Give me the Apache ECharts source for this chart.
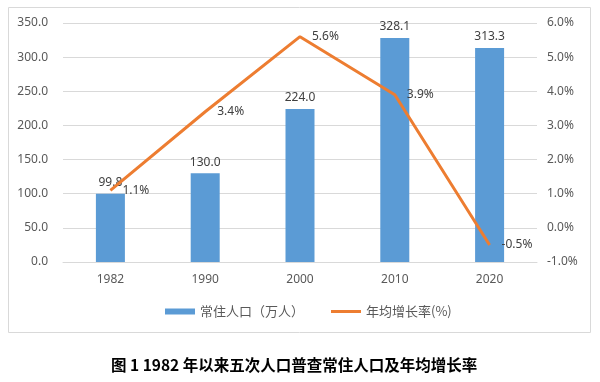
<!DOCTYPE html>
<html><head><meta charset="utf-8">
<script src="https://cdn.jsdelivr.net/npm/echarts@6/dist/echarts.min.js"></script>
<style>html,body{margin:0;padding:0;background:#fff}#c{width:600px;height:382px}</style>
</head><body><div id="c"></div>
<script>
const categories = ['1982', '1990', '2000', '2010', '2020'];
const population = [99.8, 130.0, 224.0, 328.1, 313.3];
const growthRate = [1.1, 3.4, 5.6, 3.9, -0.5];
const seriesNames = ['常住人口（万人）', '年均增长率(%)'];
const titleText = '图 1 1982 年以来五次人口普查常住人口及年均增长率';

const font = "'Noto Sans', 'Noto Sans CJK SC', sans-serif";
const chart = echarts.init(document.getElementById('c'));
chart.setOption({
  animation: false,
  textStyle: { fontFamily: font },
  graphic: [
    { type: 'rect', shape: { x: 8.5, y: 7.5, width: 582, height: 325 }, style: { fill: 'none', stroke: '#D9D9D9', lineWidth: 1 }, z: -1 }
  ],
  title: {
    text: titleText, left: 106, top: 352,
    textStyle: { fontSize: 15.5, fontWeight: 'bold', color: '#000', fontFamily: "'Noto Sans CJK SC', sans-serif" }
  },
  legend: {
    top: 300, left: 160, itemGap: 27, itemWidth: 30, itemHeight: 6,
    textStyle: { color: '#595959', fontSize: 13, fontFamily: "'Noto Sans CJK SC', sans-serif" },
    data: [
      { name: seriesNames[0], icon: 'rect' },
      { name: seriesNames[1], icon: 'path://M0,0 L30,0 L30,3 L0,3 Z', itemStyle: { color: '#ED7D31' } }
    ]
  },
  grid: { left: 63, right: 63, top: 23, bottom: 120 },
  xAxis: {
    type: 'category', data: categories,
    axisLine: { lineStyle: { color: '#D9D9D9' } }, axisTick: { show: false },
    axisLabel: { color: '#595959', fontSize: 12, margin: 12 }
  },
  yAxis: [
    { type: 'value', min: 0, max: 350, interval: 50,
      axisLabel: { color: '#595959', fontSize: 12, margin: 15, formatter: v => v.toFixed(1) },
      splitLine: { lineStyle: { color: '#D9D9D9' } }, axisLine: { show: false }, axisTick: { show: false } },
    { type: 'value', min: -1, max: 6, interval: 1,
      axisLabel: { color: '#595959', fontSize: 12, margin: 10, formatter: v => v.toFixed(1) + '%' },
      splitLine: { show: false }, axisLine: { show: false }, axisTick: { show: false } }
  ],
  series: [
    { name: seriesNames[0], type: 'bar', data: population, barWidth: 29,
      itemStyle: { color: '#5B9BD5' },
      label: { show: true, position: 'top', color: '#404040', fontSize: 12, formatter: p => p.value.toFixed(1) } },
    { name: seriesNames[1], type: 'line', yAxisIndex: 1, data: growthRate, symbol: 'none',
      lineStyle: { color: '#ED7D31', width: 3 }, itemStyle: { color: '#ED7D31' }, z: 3 },
    { name: 'rateLabels', type: 'scatter', yAxisIndex: 1, data: growthRate, symbolSize: 0.01,
      itemStyle: { color: '#ED7D31', opacity: 1 }, z: 4, emphasis: { disabled: true },
      label: { show: true, position: 'right', distance: 12, color: '#404040', fontSize: 12, formatter: p => p.value.toFixed(1) + '%' } }
  ]
});
</script></body></html>
